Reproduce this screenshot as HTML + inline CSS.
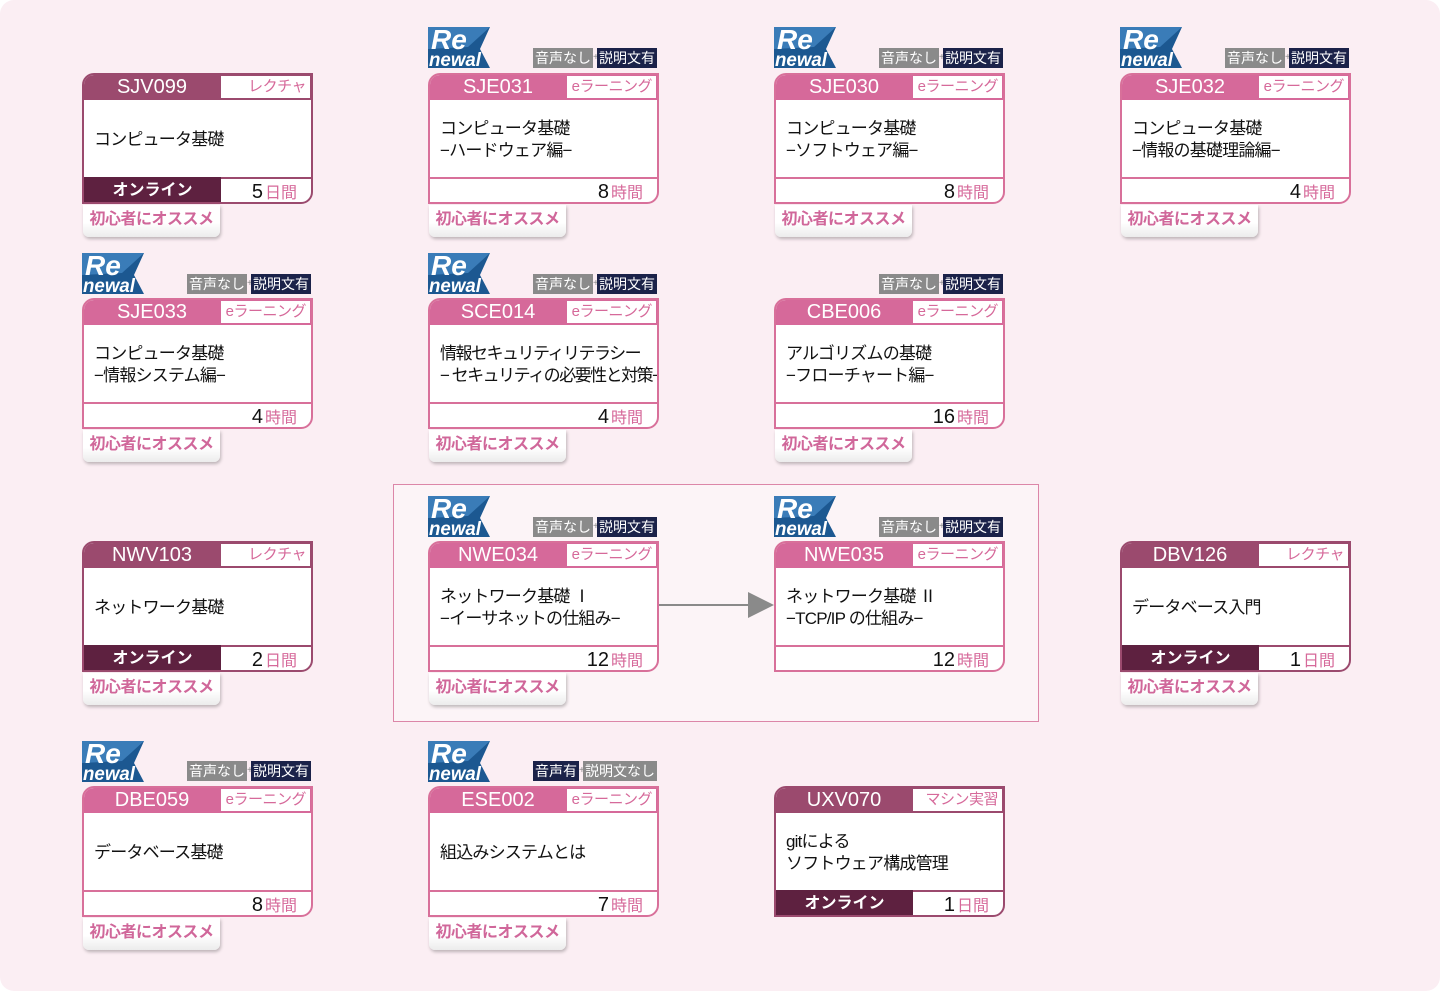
<!DOCTYPE html>
<html><head><meta charset="utf-8">
<style>
*{box-sizing:border-box;margin:0;padding:0}
body{width:1440px;height:991px;background:#fff;position:relative;overflow:hidden;font-family:"Liberation Sans","Noto Sans CJK JP",sans-serif}
.bg{position:absolute;left:0;top:0;width:1440px;height:991px;background:#fbeef3;border-radius:14px}
.grp{position:absolute;left:393px;top:484px;width:646px;height:238px;border:1px solid #dc86a8;background:#fcf4f7}
.card{position:absolute;width:231px;height:131px;border:2px solid #d8709a;border-radius:12px 0 12px 0;background:#fff;overflow:hidden}
.card.lec{border-color:#9b4a6e}
.hd{position:absolute;left:0;top:0;width:100%;height:25px;background:#d6699a}
.lec .hd{background:#9b4a6e}
.code{position:absolute;left:0;top:0;width:136px;height:25px;color:#fff;font-size:20px;line-height:25px;text-align:center}
.lab{position:absolute;left:137px;top:1px;right:1px;height:22px;background:#fff;color:#d6699a;font-size:15px;line-height:22px;text-align:right;padding-right:4px;letter-spacing:-0.5px}
.body{position:absolute;left:10px;top:25px;right:0;height:79px;display:flex;align-items:center;font-size:17px;line-height:22px;color:#111;white-space:nowrap;letter-spacing:-0.8px}
.ft{position:absolute;left:0;bottom:0;width:100%;height:25px;border-top:2px solid #d8709a}
.lec .ft{border-top-color:#9b4a6e}
.onl{position:absolute;left:0;top:-2px;width:137px;height:25px;background:#5e2140;color:#fff;font-size:16px;font-weight:bold;line-height:27px;text-align:center}
.hr{position:absolute;right:14px;top:1px;font-size:20px;line-height:24px;color:#111}
.hr span{color:#d6699a;font-size:16px;margin-left:2px}
.tag{position:absolute;width:137px;height:32px;background:linear-gradient(#fff 55%,#ececec);border-radius:0 0 6px 6px;box-shadow:1px 2px 3px rgba(0,0,0,.25);color:#d0679a;font-size:16px;font-weight:bold;line-height:30px;text-align:center;letter-spacing:-0.5px}
.med{position:absolute;height:20px;font-size:14px;line-height:20px;color:#fff;white-space:nowrap;display:flex}
.med .g{background:#8a8a8a;padding:0 2px}
.med .n{background:#1b2249;padding:0 2px}
.med .p{color:#888;font-size:10px;width:4px;overflow:visible}
.rn{position:absolute;width:62px;height:41px}
</style></head><body>
<div class="bg"></div>
<div class="grp"></div>

<svg width="0" height="0" style="position:absolute"><defs>
<symbol id="rnw" viewBox="0 0 62 41"><polygon points="0,0 62,0 52,22 62,41 0,41" fill="#1c5891"/><polygon points="0,0 62,0 40,20 0,22" fill="#3a7cb8"/><text x="3" y="22" font-family="Liberation Sans" font-weight="bold" font-style="italic" font-size="28" fill="#fff">Re</text><text x="1" y="39" font-family="Liberation Sans" font-weight="bold" font-style="italic" font-size="19" fill="#fff" textLength="52" lengthAdjust="spacingAndGlyphs">newal</text></symbol>
</defs></svg>

<svg style="position:absolute;left:655px;top:590px" width="120" height="30"><line x1="3" y1="15" x2="95" y2="15" stroke="#8a8a8a" stroke-width="2"/><polygon points="93,2 119,15 93,28" fill="#8a8a8a"/></svg>

<div class="card lec" style="left:82px;top:73px"><div class="hd"><div class="code">SJV099</div><div class="lab">レクチャ</div></div><div class="body">コンピュータ基礎</div><div class="ft"><div class="onl">オンライン</div><div class="hr">5<span>日間</span></div></div></div>
<div class="tag" style="left:83px;top:205px">初心者にオススメ</div>

<svg class="rn" style="left:428px;top:27px"><use href="#rnw"/></svg>
<div class="med" style="right:783px;top:48px"><span class="g">音声なし</span><span class="p">+</span><span class="n">説明文有</span></div>
<div class="card" style="left:428px;top:73px"><div class="hd"><div class="code">SJE031</div><div class="lab">eラーニング</div></div><div class="body">コンピュータ基礎<br>−ハードウェア編−</div><div class="ft"><div class="hr">8<span>時間</span></div></div></div>
<div class="tag" style="left:429px;top:205px">初心者にオススメ</div>

<svg class="rn" style="left:774px;top:27px"><use href="#rnw"/></svg>
<div class="med" style="right:437px;top:48px"><span class="g">音声なし</span><span class="p">+</span><span class="n">説明文有</span></div>
<div class="card" style="left:774px;top:73px"><div class="hd"><div class="code">SJE030</div><div class="lab">eラーニング</div></div><div class="body">コンピュータ基礎<br>−ソフトウェア編−</div><div class="ft"><div class="hr">8<span>時間</span></div></div></div>
<div class="tag" style="left:775px;top:205px">初心者にオススメ</div>

<svg class="rn" style="left:1120px;top:27px"><use href="#rnw"/></svg>
<div class="med" style="right:91px;top:48px"><span class="g">音声なし</span><span class="p">+</span><span class="n">説明文有</span></div>
<div class="card" style="left:1120px;top:73px"><div class="hd"><div class="code">SJE032</div><div class="lab">eラーニング</div></div><div class="body">コンピュータ基礎<br>−情報の基礎理論編−</div><div class="ft"><div class="hr">4<span>時間</span></div></div></div>
<div class="tag" style="left:1121px;top:205px">初心者にオススメ</div>

<svg class="rn" style="left:82px;top:253px"><use href="#rnw"/></svg>
<div class="med" style="right:1129px;top:274px"><span class="g">音声なし</span><span class="p">+</span><span class="n">説明文有</span></div>
<div class="card" style="left:82px;top:298px"><div class="hd"><div class="code">SJE033</div><div class="lab">eラーニング</div></div><div class="body">コンピュータ基礎<br>−情報システム編−</div><div class="ft"><div class="hr">4<span>時間</span></div></div></div>
<div class="tag" style="left:83px;top:430px">初心者にオススメ</div>

<svg class="rn" style="left:428px;top:253px"><use href="#rnw"/></svg>
<div class="med" style="right:783px;top:274px"><span class="g">音声なし</span><span class="p">+</span><span class="n">説明文有</span></div>
<div class="card" style="left:428px;top:298px"><div class="hd"><div class="code">SCE014</div><div class="lab">eラーニング</div></div><div class="body" style="letter-spacing:-1.5px">情報セキュリティリテラシー<br>− セキュリティの必要性と対策−</div><div class="ft"><div class="hr">4<span>時間</span></div></div></div>
<div class="tag" style="left:429px;top:430px">初心者にオススメ</div>

<div class="med" style="right:437px;top:274px"><span class="g">音声なし</span><span class="p">+</span><span class="n">説明文有</span></div>
<div class="card" style="left:774px;top:298px"><div class="hd"><div class="code">CBE006</div><div class="lab">eラーニング</div></div><div class="body">アルゴリズムの基礎<br>−フローチャート編−</div><div class="ft"><div class="hr">16<span>時間</span></div></div></div>
<div class="tag" style="left:775px;top:430px">初心者にオススメ</div>

<div class="card lec" style="left:82px;top:541px"><div class="hd"><div class="code">NWV103</div><div class="lab">レクチャ</div></div><div class="body">ネットワーク基礎</div><div class="ft"><div class="onl">オンライン</div><div class="hr">2<span>日間</span></div></div></div>
<div class="tag" style="left:83px;top:673px">初心者にオススメ</div>

<svg class="rn" style="left:428px;top:496px"><use href="#rnw"/></svg>
<div class="med" style="right:783px;top:517px"><span class="g">音声なし</span><span class="p">+</span><span class="n">説明文有</span></div>
<div class="card" style="left:428px;top:541px"><div class="hd"><div class="code">NWE034</div><div class="lab">eラーニング</div></div><div class="body">ネットワーク基礎 Ⅰ<br>−イーサネットの仕組み−</div><div class="ft"><div class="hr">12<span>時間</span></div></div></div>
<div class="tag" style="left:429px;top:673px">初心者にオススメ</div>

<svg class="rn" style="left:774px;top:496px"><use href="#rnw"/></svg>
<div class="med" style="right:437px;top:517px"><span class="g">音声なし</span><span class="p">+</span><span class="n">説明文有</span></div>
<div class="card" style="left:774px;top:541px"><div class="hd"><div class="code">NWE035</div><div class="lab">eラーニング</div></div><div class="body">ネットワーク基礎 Ⅱ<br>−TCP/IP の仕組み−</div><div class="ft"><div class="hr">12<span>時間</span></div></div></div>

<div class="card lec" style="left:1120px;top:541px"><div class="hd"><div class="code">DBV126</div><div class="lab">レクチャ</div></div><div class="body">データベース入門</div><div class="ft"><div class="onl">オンライン</div><div class="hr">1<span>日間</span></div></div></div>
<div class="tag" style="left:1121px;top:673px">初心者にオススメ</div>

<svg class="rn" style="left:82px;top:741px"><use href="#rnw"/></svg>
<div class="med" style="right:1129px;top:761px"><span class="g">音声なし</span><span class="p">+</span><span class="n">説明文有</span></div>
<div class="card" style="left:82px;top:786px"><div class="hd"><div class="code">DBE059</div><div class="lab">eラーニング</div></div><div class="body">データベース基礎</div><div class="ft"><div class="hr">8<span>時間</span></div></div></div>
<div class="tag" style="left:83px;top:918px">初心者にオススメ</div>

<svg class="rn" style="left:428px;top:741px"><use href="#rnw"/></svg>
<div class="med" style="right:783px;top:761px"><span class="n">音声有</span><span class="p">+</span><span class="g">説明文なし</span></div>
<div class="card" style="left:428px;top:786px"><div class="hd"><div class="code">ESE002</div><div class="lab">eラーニング</div></div><div class="body">組込みシステムとは</div><div class="ft"><div class="hr">7<span>時間</span></div></div></div>
<div class="tag" style="left:429px;top:918px">初心者にオススメ</div>

<div class="card lec" style="left:774px;top:786px"><div class="hd"><div class="code">UXV070</div><div class="lab">マシン実習</div></div><div class="body">gitによる<br>ソフトウェア構成管理</div><div class="ft"><div class="onl">オンライン</div><div class="hr">1<span>日間</span></div></div></div>

</body></html>
